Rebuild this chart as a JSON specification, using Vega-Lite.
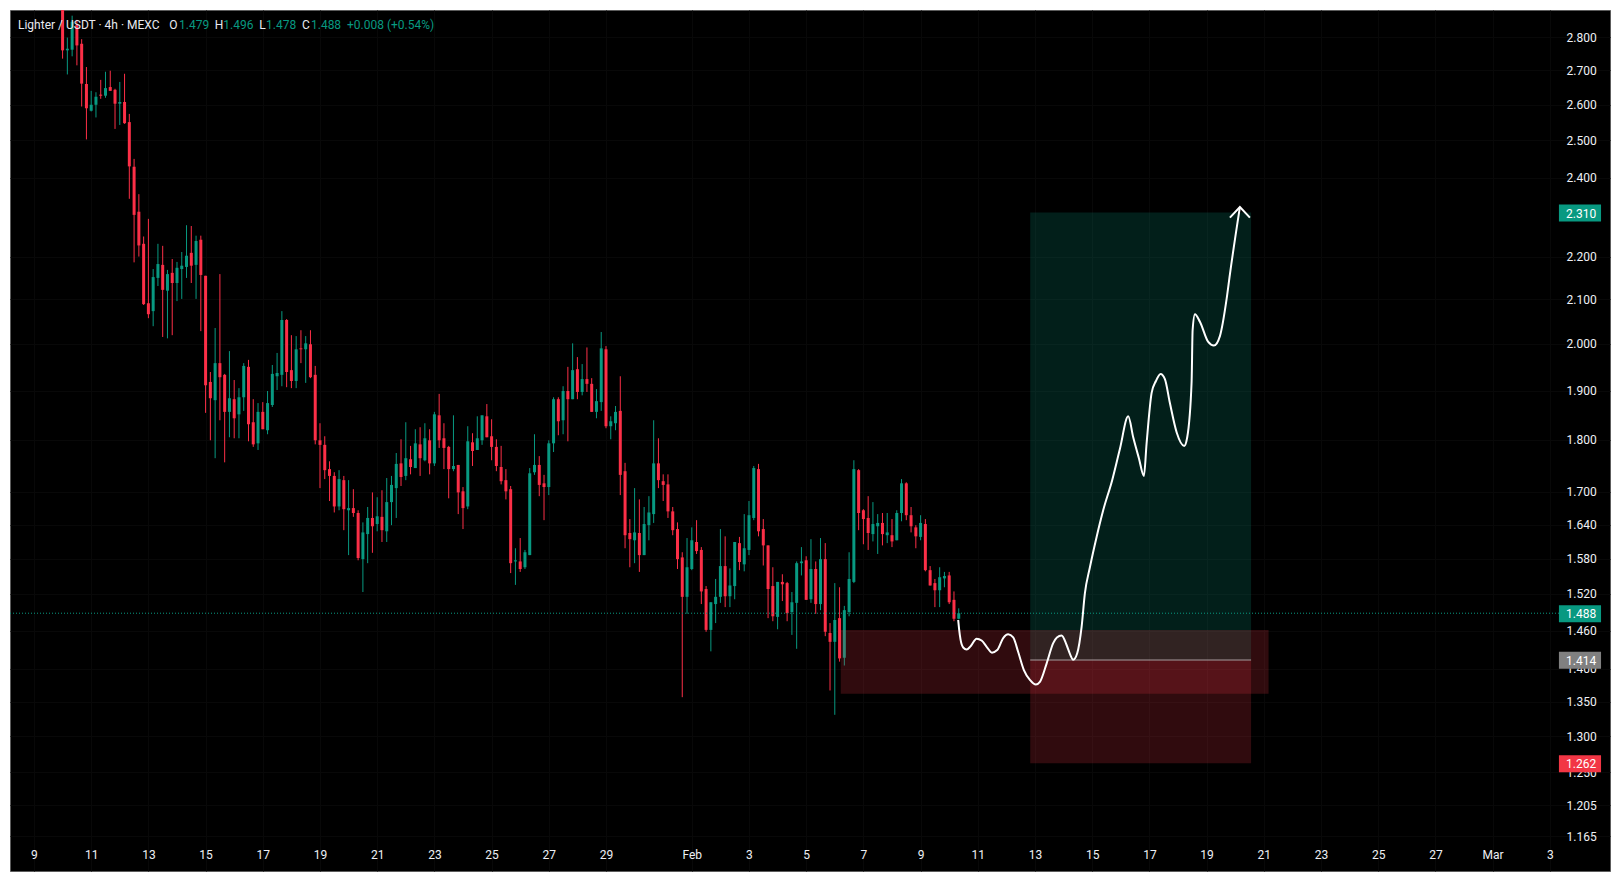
{"$schema":"https://vega.github.io/schema/vega-lite/v6.json","width":1600,"height":861,"autosize":{"type":"none"},"padding":{"left":10,"top":10,"right":10,"bottom":10},"background":"#ffffff","view":{"fill":"#000000","stroke":"#5c5c5c","strokeWidth":1},
"datasets":{"candles":[
{"t":"2026-01-10T00:00:00Z","o":2.95,"h":3.0,"l":2.735,"c":2.76},
{"t":"2026-01-10T04:00:00Z","o":2.76,"h":2.799,"l":2.688,"c":2.765},
{"t":"2026-01-10T08:00:00Z","o":2.762,"h":2.867,"l":2.742,"c":2.848},
{"t":"2026-01-10T12:00:00Z","o":2.838,"h":2.854,"l":2.715,"c":2.775},
{"t":"2026-01-10T16:00:00Z","o":2.78,"h":2.794,"l":2.595,"c":2.661},
{"t":"2026-01-10T20:00:00Z","o":2.66,"h":2.71,"l":2.503,"c":2.59},
{"t":"2026-01-11T00:00:00Z","o":2.583,"h":2.64,"l":2.581,"c":2.6},
{"t":"2026-01-11T04:00:00Z","o":2.6,"h":2.636,"l":2.564,"c":2.623},
{"t":"2026-01-11T08:00:00Z","o":2.629,"h":2.672,"l":2.617,"c":2.626},
{"t":"2026-01-11T12:00:00Z","o":2.626,"h":2.696,"l":2.62,"c":2.648},
{"t":"2026-01-11T16:00:00Z","o":2.651,"h":2.699,"l":2.64,"c":2.64},
{"t":"2026-01-11T20:00:00Z","o":2.643,"h":2.646,"l":2.532,"c":2.603},
{"t":"2026-01-12T00:00:00Z","o":2.603,"h":2.666,"l":2.543,"c":2.608},
{"t":"2026-01-12T04:00:00Z","o":2.608,"h":2.69,"l":2.546,"c":2.548},
{"t":"2026-01-12T08:00:00Z","o":2.551,"h":2.574,"l":2.345,"c":2.43},
{"t":"2026-01-12T12:00:00Z","o":2.429,"h":2.45,"l":2.187,"c":2.304},
{"t":"2026-01-12T16:00:00Z","o":2.312,"h":2.357,"l":2.201,"c":2.228},
{"t":"2026-01-12T20:00:00Z","o":2.232,"h":2.25,"l":2.087,"c":2.089},
{"t":"2026-01-13T00:00:00Z","o":2.091,"h":2.294,"l":2.057,"c":2.066},
{"t":"2026-01-13T04:00:00Z","o":2.073,"h":2.171,"l":2.039,"c":2.152},
{"t":"2026-01-13T08:00:00Z","o":2.15,"h":2.232,"l":2.131,"c":2.183},
{"t":"2026-01-13T12:00:00Z","o":2.181,"h":2.227,"l":2.015,"c":2.122},
{"t":"2026-01-13T16:00:00Z","o":2.12,"h":2.169,"l":2.012,"c":2.159},
{"t":"2026-01-13T20:00:00Z","o":2.162,"h":2.195,"l":2.019,"c":2.138},
{"t":"2026-01-14T00:00:00Z","o":2.138,"h":2.188,"l":2.096,"c":2.174},
{"t":"2026-01-14T04:00:00Z","o":2.171,"h":2.212,"l":2.101,"c":2.179},
{"t":"2026-01-14T08:00:00Z","o":2.176,"h":2.278,"l":2.15,"c":2.203},
{"t":"2026-01-14T12:00:00Z","o":2.21,"h":2.276,"l":2.138,"c":2.179},
{"t":"2026-01-14T16:00:00Z","o":2.181,"h":2.252,"l":2.101,"c":2.239},
{"t":"2026-01-14T20:00:00Z","o":2.242,"h":2.252,"l":2.028,"c":2.157},
{"t":"2026-01-15T00:00:00Z","o":2.155,"h":2.155,"l":1.854,"c":1.911},
{"t":"2026-01-15T04:00:00Z","o":1.918,"h":1.939,"l":1.799,"c":1.884},
{"t":"2026-01-15T08:00:00Z","o":1.88,"h":2.035,"l":1.764,"c":1.958},
{"t":"2026-01-15T12:00:00Z","o":1.958,"h":2.159,"l":1.839,"c":1.928},
{"t":"2026-01-15T16:00:00Z","o":1.933,"h":1.935,"l":1.756,"c":1.856},
{"t":"2026-01-15T20:00:00Z","o":1.856,"h":1.984,"l":1.805,"c":1.884},
{"t":"2026-01-16T00:00:00Z","o":1.882,"h":1.922,"l":1.803,"c":1.843},
{"t":"2026-01-16T04:00:00Z","o":1.851,"h":1.905,"l":1.803,"c":1.886},
{"t":"2026-01-16T08:00:00Z","o":1.886,"h":1.958,"l":1.858,"c":1.952},
{"t":"2026-01-16T12:00:00Z","o":1.95,"h":1.965,"l":1.797,"c":1.831},
{"t":"2026-01-16T16:00:00Z","o":1.835,"h":1.882,"l":1.786,"c":1.791},
{"t":"2026-01-16T20:00:00Z","o":1.793,"h":1.874,"l":1.78,"c":1.856},
{"t":"2026-01-17T00:00:00Z","o":1.856,"h":1.876,"l":1.821,"c":1.821},
{"t":"2026-01-17T04:00:00Z","o":1.819,"h":1.899,"l":1.811,"c":1.874},
{"t":"2026-01-17T08:00:00Z","o":1.87,"h":1.954,"l":1.866,"c":1.935},
{"t":"2026-01-17T12:00:00Z","o":1.93,"h":1.98,"l":1.901,"c":1.937},
{"t":"2026-01-17T16:00:00Z","o":1.933,"h":2.073,"l":1.909,"c":2.053},
{"t":"2026-01-17T20:00:00Z","o":2.053,"h":2.055,"l":1.907,"c":1.939},
{"t":"2026-01-18T00:00:00Z","o":1.943,"h":2.019,"l":1.905,"c":1.92},
{"t":"2026-01-18T04:00:00Z","o":1.92,"h":2.017,"l":1.905,"c":1.988},
{"t":"2026-01-18T08:00:00Z","o":1.99,"h":2.03,"l":1.958,"c":1.988},
{"t":"2026-01-18T12:00:00Z","o":1.988,"h":2.017,"l":1.916,"c":2.001},
{"t":"2026-01-18T16:00:00Z","o":1.999,"h":2.03,"l":1.926,"c":1.928},
{"t":"2026-01-18T20:00:00Z","o":1.933,"h":1.952,"l":1.791,"c":1.799},
{"t":"2026-01-19T00:00:00Z","o":1.799,"h":1.833,"l":1.707,"c":1.79},
{"t":"2026-01-19T04:00:00Z","o":1.79,"h":1.807,"l":1.724,"c":1.741},
{"t":"2026-01-19T08:00:00Z","o":1.743,"h":1.758,"l":1.683,"c":1.73},
{"t":"2026-01-19T12:00:00Z","o":1.73,"h":1.737,"l":1.662,"c":1.673},
{"t":"2026-01-19T16:00:00Z","o":1.673,"h":1.741,"l":1.666,"c":1.724},
{"t":"2026-01-19T20:00:00Z","o":1.722,"h":1.73,"l":1.63,"c":1.668},
{"t":"2026-01-20T00:00:00Z","o":1.666,"h":1.722,"l":1.586,"c":1.67},
{"t":"2026-01-20T04:00:00Z","o":1.67,"h":1.705,"l":1.654,"c":1.661},
{"t":"2026-01-20T08:00:00Z","o":1.661,"h":1.666,"l":1.577,"c":1.581},
{"t":"2026-01-20T12:00:00Z","o":1.579,"h":1.644,"l":1.523,"c":1.626},
{"t":"2026-01-20T16:00:00Z","o":1.623,"h":1.672,"l":1.572,"c":1.652},
{"t":"2026-01-20T20:00:00Z","o":1.652,"h":1.699,"l":1.59,"c":1.637},
{"t":"2026-01-21T00:00:00Z","o":1.641,"h":1.69,"l":1.628,"c":1.655},
{"t":"2026-01-21T04:00:00Z","o":1.654,"h":1.703,"l":1.609,"c":1.63},
{"t":"2026-01-21T08:00:00Z","o":1.628,"h":1.726,"l":1.609,"c":1.681},
{"t":"2026-01-21T12:00:00Z","o":1.681,"h":1.73,"l":1.639,"c":1.713},
{"t":"2026-01-21T16:00:00Z","o":1.707,"h":1.774,"l":1.652,"c":1.753},
{"t":"2026-01-21T20:00:00Z","o":1.754,"h":1.801,"l":1.711,"c":1.728},
{"t":"2026-01-22T00:00:00Z","o":1.73,"h":1.835,"l":1.722,"c":1.764},
{"t":"2026-01-22T04:00:00Z","o":1.762,"h":1.788,"l":1.733,"c":1.747},
{"t":"2026-01-22T08:00:00Z","o":1.745,"h":1.821,"l":1.745,"c":1.793},
{"t":"2026-01-22T12:00:00Z","o":1.791,"h":1.825,"l":1.73,"c":1.764},
{"t":"2026-01-22T16:00:00Z","o":1.76,"h":1.833,"l":1.758,"c":1.803},
{"t":"2026-01-22T20:00:00Z","o":1.799,"h":1.821,"l":1.733,"c":1.754},
{"t":"2026-01-23T00:00:00Z","o":1.754,"h":1.856,"l":1.749,"c":1.851},
{"t":"2026-01-23T04:00:00Z","o":1.849,"h":1.893,"l":1.784,"c":1.799},
{"t":"2026-01-23T08:00:00Z","o":1.803,"h":1.833,"l":1.743,"c":1.784},
{"t":"2026-01-23T12:00:00Z","o":1.786,"h":1.788,"l":1.688,"c":1.743},
{"t":"2026-01-23T16:00:00Z","o":1.743,"h":1.849,"l":1.739,"c":1.749},
{"t":"2026-01-23T20:00:00Z","o":1.751,"h":1.751,"l":1.659,"c":1.699},
{"t":"2026-01-24T00:00:00Z","o":1.701,"h":1.709,"l":1.632,"c":1.67},
{"t":"2026-01-24T04:00:00Z","o":1.673,"h":1.827,"l":1.668,"c":1.797},
{"t":"2026-01-24T08:00:00Z","o":1.795,"h":1.813,"l":1.749,"c":1.778},
{"t":"2026-01-24T12:00:00Z","o":1.78,"h":1.847,"l":1.78,"c":1.803},
{"t":"2026-01-24T16:00:00Z","o":1.799,"h":1.849,"l":1.79,"c":1.849},
{"t":"2026-01-24T20:00:00Z","o":1.847,"h":1.872,"l":1.805,"c":1.805},
{"t":"2026-01-25T00:00:00Z","o":1.807,"h":1.841,"l":1.76,"c":1.786},
{"t":"2026-01-25T04:00:00Z","o":1.786,"h":1.801,"l":1.739,"c":1.749},
{"t":"2026-01-25T08:00:00Z","o":1.747,"h":1.788,"l":1.714,"c":1.72},
{"t":"2026-01-25T12:00:00Z","o":1.722,"h":1.743,"l":1.686,"c":1.701},
{"t":"2026-01-25T16:00:00Z","o":1.705,"h":1.711,"l":1.555,"c":1.572},
{"t":"2026-01-25T20:00:00Z","o":1.575,"h":1.598,"l":1.535,"c":1.577},
{"t":"2026-01-26T00:00:00Z","o":1.575,"h":1.616,"l":1.557,"c":1.562},
{"t":"2026-01-26T04:00:00Z","o":1.565,"h":1.595,"l":1.562,"c":1.591},
{"t":"2026-01-26T08:00:00Z","o":1.586,"h":1.745,"l":1.586,"c":1.735},
{"t":"2026-01-26T12:00:00Z","o":1.737,"h":1.811,"l":1.732,"c":1.751},
{"t":"2026-01-26T16:00:00Z","o":1.751,"h":1.768,"l":1.692,"c":1.713},
{"t":"2026-01-26T20:00:00Z","o":1.716,"h":1.732,"l":1.648,"c":1.709},
{"t":"2026-01-27T00:00:00Z","o":1.709,"h":1.799,"l":1.694,"c":1.793},
{"t":"2026-01-27T04:00:00Z","o":1.793,"h":1.886,"l":1.776,"c":1.882},
{"t":"2026-01-27T08:00:00Z","o":1.882,"h":1.886,"l":1.809,"c":1.837},
{"t":"2026-01-27T12:00:00Z","o":1.839,"h":1.909,"l":1.811,"c":1.899},
{"t":"2026-01-27T16:00:00Z","o":1.899,"h":1.95,"l":1.797,"c":1.882},
{"t":"2026-01-27T20:00:00Z","o":1.882,"h":2.001,"l":1.882,"c":1.943},
{"t":"2026-01-28T00:00:00Z","o":1.945,"h":1.971,"l":1.882,"c":1.897},
{"t":"2026-01-28T04:00:00Z","o":1.897,"h":1.956,"l":1.89,"c":1.924},
{"t":"2026-01-28T08:00:00Z","o":1.924,"h":1.992,"l":1.897,"c":1.914},
{"t":"2026-01-28T12:00:00Z","o":1.914,"h":1.926,"l":1.856,"c":1.856},
{"t":"2026-01-28T16:00:00Z","o":1.856,"h":1.903,"l":1.843,"c":1.878},
{"t":"2026-01-28T20:00:00Z","o":1.876,"h":2.026,"l":1.858,"c":1.99},
{"t":"2026-01-29T00:00:00Z","o":1.988,"h":1.995,"l":1.823,"c":1.827},
{"t":"2026-01-29T04:00:00Z","o":1.827,"h":1.847,"l":1.801,"c":1.837},
{"t":"2026-01-29T08:00:00Z","o":1.833,"h":1.868,"l":1.819,"c":1.856},
{"t":"2026-01-29T12:00:00Z","o":1.858,"h":1.93,"l":1.694,"c":1.732},
{"t":"2026-01-29T16:00:00Z","o":1.739,"h":1.755,"l":1.598,"c":1.621},
{"t":"2026-01-29T20:00:00Z","o":1.625,"h":1.65,"l":1.565,"c":1.614},
{"t":"2026-01-30T00:00:00Z","o":1.612,"h":1.707,"l":1.572,"c":1.626},
{"t":"2026-01-30T04:00:00Z","o":1.625,"h":1.686,"l":1.557,"c":1.586},
{"t":"2026-01-30T08:00:00Z","o":1.586,"h":1.672,"l":1.586,"c":1.641},
{"t":"2026-01-30T12:00:00Z","o":1.639,"h":1.692,"l":1.612,"c":1.662},
{"t":"2026-01-30T16:00:00Z","o":1.659,"h":1.839,"l":1.643,"c":1.754},
{"t":"2026-01-30T20:00:00Z","o":1.754,"h":1.803,"l":1.707,"c":1.722},
{"t":"2026-01-31T00:00:00Z","o":1.72,"h":1.733,"l":1.683,"c":1.713},
{"t":"2026-01-31T04:00:00Z","o":1.714,"h":1.733,"l":1.652,"c":1.664},
{"t":"2026-01-31T08:00:00Z","o":1.664,"h":1.672,"l":1.621,"c":1.63},
{"t":"2026-01-31T12:00:00Z","o":1.632,"h":1.644,"l":1.562,"c":1.579},
{"t":"2026-01-31T16:00:00Z","o":1.582,"h":1.591,"l":1.357,"c":1.515},
{"t":"2026-01-31T20:00:00Z","o":1.515,"h":1.616,"l":1.487,"c":1.565},
{"t":"2026-02-01T00:00:00Z","o":1.562,"h":1.635,"l":1.56,"c":1.612},
{"t":"2026-02-01T04:00:00Z","o":1.609,"h":1.648,"l":1.588,"c":1.593},
{"t":"2026-02-01T08:00:00Z","o":1.595,"h":1.6,"l":1.503,"c":1.524},
{"t":"2026-02-01T12:00:00Z","o":1.528,"h":1.533,"l":1.458,"c":1.461},
{"t":"2026-02-01T16:00:00Z","o":1.461,"h":1.506,"l":1.427,"c":1.506},
{"t":"2026-02-01T20:00:00Z","o":1.503,"h":1.545,"l":1.472,"c":1.515},
{"t":"2026-02-02T00:00:00Z","o":1.515,"h":1.632,"l":1.505,"c":1.567},
{"t":"2026-02-02T04:00:00Z","o":1.567,"h":1.619,"l":1.498,"c":1.516},
{"t":"2026-02-02T08:00:00Z","o":1.516,"h":1.563,"l":1.498,"c":1.534},
{"t":"2026-02-02T12:00:00Z","o":1.533,"h":1.609,"l":1.511,"c":1.609},
{"t":"2026-02-02T16:00:00Z","o":1.607,"h":1.618,"l":1.56,"c":1.574},
{"t":"2026-02-02T20:00:00Z","o":1.57,"h":1.659,"l":1.558,"c":1.598},
{"t":"2026-02-03T00:00:00Z","o":1.595,"h":1.683,"l":1.586,"c":1.657},
{"t":"2026-02-03T04:00:00Z","o":1.652,"h":1.749,"l":1.648,"c":1.745},
{"t":"2026-02-03T08:00:00Z","o":1.743,"h":1.753,"l":1.619,"c":1.628},
{"t":"2026-02-03T12:00:00Z","o":1.632,"h":1.65,"l":1.568,"c":1.603},
{"t":"2026-02-03T16:00:00Z","o":1.603,"h":1.603,"l":1.48,"c":1.528},
{"t":"2026-02-03T20:00:00Z","o":1.533,"h":1.565,"l":1.475,"c":1.483},
{"t":"2026-02-04T00:00:00Z","o":1.482,"h":1.54,"l":1.462,"c":1.54},
{"t":"2026-02-04T04:00:00Z","o":1.54,"h":1.553,"l":1.508,"c":1.536},
{"t":"2026-02-04T08:00:00Z","o":1.538,"h":1.54,"l":1.475,"c":1.488},
{"t":"2026-02-04T12:00:00Z","o":1.49,"h":1.523,"l":1.453,"c":1.506},
{"t":"2026-02-04T16:00:00Z","o":1.505,"h":1.575,"l":1.431,"c":1.572},
{"t":"2026-02-04T20:00:00Z","o":1.572,"h":1.6,"l":1.551,"c":1.575},
{"t":"2026-02-05T00:00:00Z","o":1.577,"h":1.584,"l":1.51,"c":1.51},
{"t":"2026-02-05T04:00:00Z","o":1.511,"h":1.614,"l":1.505,"c":1.562},
{"t":"2026-02-05T08:00:00Z","o":1.562,"h":1.575,"l":1.487,"c":1.503},
{"t":"2026-02-05T12:00:00Z","o":1.503,"h":1.616,"l":1.493,"c":1.579},
{"t":"2026-02-05T16:00:00Z","o":1.579,"h":1.607,"l":1.451,"c":1.458},
{"t":"2026-02-05T20:00:00Z","o":1.456,"h":1.472,"l":1.367,"c":1.442},
{"t":"2026-02-06T00:00:00Z","o":1.442,"h":1.538,"l":1.331,"c":1.477},
{"t":"2026-02-06T04:00:00Z","o":1.48,"h":1.531,"l":1.411,"c":1.416},
{"t":"2026-02-06T08:00:00Z","o":1.417,"h":1.5,"l":1.405,"c":1.493},
{"t":"2026-02-06T12:00:00Z","o":1.49,"h":1.591,"l":1.483,"c":1.545},
{"t":"2026-02-06T16:00:00Z","o":1.54,"h":1.76,"l":1.538,"c":1.743},
{"t":"2026-02-06T20:00:00Z","o":1.741,"h":1.743,"l":1.63,"c":1.661},
{"t":"2026-02-07T00:00:00Z","o":1.666,"h":1.668,"l":1.605,"c":1.65},
{"t":"2026-02-07T04:00:00Z","o":1.652,"h":1.692,"l":1.595,"c":1.625},
{"t":"2026-02-07T08:00:00Z","o":1.623,"h":1.681,"l":1.61,"c":1.641},
{"t":"2026-02-07T12:00:00Z","o":1.637,"h":1.659,"l":1.588,"c":1.643},
{"t":"2026-02-07T16:00:00Z","o":1.643,"h":1.661,"l":1.603,"c":1.623},
{"t":"2026-02-07T20:00:00Z","o":1.621,"h":1.661,"l":1.607,"c":1.626},
{"t":"2026-02-08T00:00:00Z","o":1.621,"h":1.65,"l":1.6,"c":1.61},
{"t":"2026-02-08T04:00:00Z","o":1.612,"h":1.666,"l":1.612,"c":1.661},
{"t":"2026-02-08T08:00:00Z","o":1.661,"h":1.724,"l":1.646,"c":1.716},
{"t":"2026-02-08T12:00:00Z","o":1.716,"h":1.718,"l":1.648,"c":1.657},
{"t":"2026-02-08T16:00:00Z","o":1.657,"h":1.672,"l":1.626,"c":1.637},
{"t":"2026-02-08T20:00:00Z","o":1.635,"h":1.639,"l":1.598,"c":1.619},
{"t":"2026-02-09T00:00:00Z","o":1.618,"h":1.657,"l":1.612,"c":1.643},
{"t":"2026-02-09T04:00:00Z","o":1.641,"h":1.65,"l":1.558,"c":1.56},
{"t":"2026-02-09T08:00:00Z","o":1.56,"h":1.567,"l":1.534,"c":1.534},
{"t":"2026-02-09T12:00:00Z","o":1.538,"h":1.545,"l":1.498,"c":1.526},
{"t":"2026-02-09T16:00:00Z","o":1.526,"h":1.565,"l":1.498,"c":1.548},
{"t":"2026-02-09T20:00:00Z","o":1.546,"h":1.557,"l":1.531,"c":1.55},
{"t":"2026-02-10T00:00:00Z","o":1.551,"h":1.557,"l":1.503,"c":1.506},
{"t":"2026-02-10T04:00:00Z","o":1.51,"h":1.524,"l":1.475,"c":1.479},
{"t":"2026-02-10T08:00:00Z","o":1.479,"h":1.496,"l":1.478,"c":1.488}
],
"forecast":[
{"t":"2026-02-10T07:33:00Z","p":1.477},{"t":"2026-02-10T08:23:00Z","p":1.461},{"t":"2026-02-10T09:34:00Z","p":1.445},{"t":"2026-02-10T11:45:00Z","p":1.433},{"t":"2026-02-10T14:36:00Z","p":1.43},{"t":"2026-02-10T17:58:00Z","p":1.435},{"t":"2026-02-10T23:00:00Z","p":1.447},{"t":"2026-02-11T03:12:00Z","p":1.444},{"t":"2026-02-11T07:54:00Z","p":1.433},{"t":"2026-02-11T11:50:00Z","p":1.425},{"t":"2026-02-11T16:17:00Z","p":1.429},{"t":"2026-02-11T21:19:00Z","p":1.448},{"t":"2026-02-12T01:31:00Z","p":1.454},{"t":"2026-02-12T05:43:00Z","p":1.449},{"t":"2026-02-12T09:54:00Z","p":1.426},{"t":"2026-02-12T14:41:00Z","p":1.398},{"t":"2026-02-12T19:43:00Z","p":1.383},{"t":"2026-02-13T00:46:00Z","p":1.376},{"t":"2026-02-13T04:07:00Z","p":1.38},{"t":"2026-02-13T09:44:00Z","p":1.408},{"t":"2026-02-13T15:17:00Z","p":1.44},{"t":"2026-02-13T18:23:00Z","p":1.449},{"t":"2026-02-13T22:20:00Z","p":1.452},{"t":"2026-02-14T02:31:00Z","p":1.437},{"t":"2026-02-14T05:18:00Z","p":1.423},{"t":"2026-02-14T08:04:00Z","p":1.414},{"t":"2026-02-14T11:25:00Z","p":1.424},{"t":"2026-02-14T15:07:00Z","p":1.466},{"t":"2026-02-14T17:53:00Z","p":1.521},{"t":"2026-02-14T22:05:00Z","p":1.565},{"t":"2026-02-15T03:42:00Z","p":1.618},{"t":"2026-02-15T09:14:00Z","p":1.666},{"t":"2026-02-15T16:46:00Z","p":1.722},{"t":"2026-02-15T23:14:00Z","p":1.782},{"t":"2026-02-16T06:13:00Z","p":1.847},{"t":"2026-02-16T10:25:00Z","p":1.805},{"t":"2026-02-16T15:11:00Z","p":1.764},{"t":"2026-02-16T19:23:00Z","p":1.73},{"t":"2026-02-16T21:39:00Z","p":1.793},{"t":"2026-02-17T01:52:00Z","p":1.895},{"t":"2026-02-17T05:28:00Z","p":1.92},{"t":"2026-02-17T09:25:00Z","p":1.935},{"t":"2026-02-17T13:01:00Z","p":1.924},{"t":"2026-02-17T17:12:00Z","p":1.874},{"t":"2026-02-17T22:50:00Z","p":1.815},{"t":"2026-02-18T05:13:00Z","p":1.788},{"t":"2026-02-18T07:44:00Z","p":1.805},{"t":"2026-02-18T11:25:00Z","p":1.918},{"t":"2026-02-18T12:16:00Z","p":2.03},{"t":"2026-02-18T14:12:00Z","p":2.066},{"t":"2026-02-18T18:24:00Z","p":2.049},{"t":"2026-02-19T01:22:00Z","p":2.004},{"t":"2026-02-19T06:08:00Z","p":1.996},{"t":"2026-02-19T11:10:00Z","p":2.017},{"t":"2026-02-19T16:48:00Z","p":2.101},{"t":"2026-02-19T19:32:00Z","p":2.158},{"t":"2026-02-20T03:57:00Z","p":2.324}
],
"arrow":[{"t":"2026-02-19T19:34:00Z","p":2.297},{"t":"2026-02-20T03:57:00Z","p":2.324},{"t":"2026-02-20T12:21:00Z","p":2.297}],
"zones":[
{"t0":"2026-02-12T20:00:00Z","t1":"2026-02-20T13:20:00Z","lo":1.414,"hi":2.31,"kind":"target"},
{"t0":"2026-02-12T20:00:00Z","t1":"2026-02-20T13:20:00Z","lo":1.262,"hi":1.414,"kind":"stop"},
{"t0":"2026-02-06T05:00:00Z","t1":"2026-02-21T04:00:00Z","lo":1.362,"hi":1.461,"kind":"stop"}
],
"levels":[{"t0":"2026-02-12T20:00:00Z","t1":"2026-02-20T13:20:00Z","p":1.4135}],
"lastprice":[{"t0":"2026-01-08T03:52:00Z","t1":"2026-03-03T07:40:00Z","p":1.488}],
"tags":[
{"t0":"2026-03-03T07:40:00Z","t1":"2026-03-04T19:00:00Z","tt":"2026-03-03T13:40:00Z","lo":2.2871,"hi":2.3303,"p":2.31,"label":"2.310","kind":"target"},
{"t0":"2026-03-03T07:40:00Z","t1":"2026-03-04T19:00:00Z","tt":"2026-03-03T13:40:00Z","lo":1.4733,"hi":1.5011,"p":1.488,"label":"1.488","kind":"last"},
{"t0":"2026-03-03T07:40:00Z","t1":"2026-03-04T19:00:00Z","tt":"2026-03-03T13:40:00Z","lo":1.4,"hi":1.4265,"p":1.414,"label":"1.414","kind":"entry"},
{"t0":"2026-03-03T07:40:00Z","t1":"2026-03-04T19:00:00Z","tt":"2026-03-03T13:40:00Z","lo":1.2495,"hi":1.2731,"p":1.262,"label":"1.262","kind":"stop"}
],
"header":[
{"t":"2026-01-08T10:34:00Z","p":2.839,"label":"Lighter / USDT · 4h · MEXC","kind":"name"},
{"t":"2026-01-13T17:32:00Z","p":2.839,"label":"O","kind":"name"},
{"t":"2026-01-14T01:41:00Z","p":2.839,"label":"1.479","kind":"value"},
{"t":"2026-01-15T07:38:00Z","p":2.839,"label":"H","kind":"name"},
{"t":"2026-01-15T14:51:00Z","p":2.839,"label":"1.496","kind":"value"},
{"t":"2026-01-16T21:03:00Z","p":2.839,"label":"L","kind":"name"},
{"t":"2026-01-17T02:41:00Z","p":2.839,"label":"1.478","kind":"value"},
{"t":"2026-01-18T08:54:00Z","p":2.839,"label":"C","kind":"name"},
{"t":"2026-01-18T16:26:00Z","p":2.839,"label":"1.488","kind":"value"},
{"t":"2026-01-19T22:39:00Z","p":2.839,"label":"+0.008 (+0.54%)","kind":"value"}
]},
"layer":[
{"data":{"name":"candles"},"mark":{"type":"rule","strokeWidth":1,"clip":true},
"encoding":{
"x":{"field":"t","type":"temporal","title":null,"scale":{"type":"utc","domain":["2026-01-08T03:52:00Z","2026-03-05T02:31:00Z"]},
"axis":{"orient":"bottom","offset":-30,"domain":false,"ticks":false,"grid":true,"gridColor":"#080808","gridWidth":1,"labelPadding":8,"labelFont":"Roboto","labelFontSize":12,"labelColor":"#eef0f5","labelFlush":false,"labelOverlap":false,"values":["2026-01-09T00:00:00Z","2026-01-11T00:00:00Z","2026-01-13T00:00:00Z","2026-01-15T00:00:00Z","2026-01-17T00:00:00Z","2026-01-19T00:00:00Z","2026-01-21T00:00:00Z","2026-01-23T00:00:00Z","2026-01-25T00:00:00Z","2026-01-27T00:00:00Z","2026-01-29T00:00:00Z","2026-02-01T00:00:00Z","2026-02-03T00:00:00Z","2026-02-05T00:00:00Z","2026-02-07T00:00:00Z","2026-02-09T00:00:00Z","2026-02-11T00:00:00Z","2026-02-13T00:00:00Z","2026-02-15T00:00:00Z","2026-02-17T00:00:00Z","2026-02-19T00:00:00Z","2026-02-21T00:00:00Z","2026-02-23T00:00:00Z","2026-02-25T00:00:00Z","2026-02-27T00:00:00Z","2026-03-01T00:00:00Z","2026-03-03T00:00:00Z"],
"labelExpr":"utcdate(datum.value)==1 ? (utcmonth(datum.value)==1 ? 'Feb' : 'Mar') : '' + utcdate(datum.value)"}},
"y":{"field":"l","type":"quantitative","title":null,"scale":{"type":"log","domain":[1.1213,2.885],"nice":false,"zero":false},
"axis":{"orient":"right","offset":-50,"domain":false,"ticks":false,"grid":true,"gridColor":"#080808","gridWidth":1,"labelPadding":6,"labelFont":"Roboto","labelFontSize":12,"labelColor":"#eef0f5","labelOverlap":false,"format":".3f","values":[2.8,2.7,2.6,2.5,2.4,2.2,2.1,2.0,1.9,1.8,1.7,1.64,1.58,1.52,1.46,1.4,1.35,1.3,1.25,1.205,1.165]}},
"y2":{"field":"h"},
"color":{"condition":{"test":"datum.c>=datum.o","value":"#089981"},"value":"#fc2f47"}}},
{"data":{"name":"candles"},"mark":{"type":"rule","strokeWidth":3,"clip":true},
"encoding":{
"x":{"field":"t","type":"temporal","title":null},
"y":{"field":"o","type":"quantitative","title":null},
"y2":{"field":"c"},
"color":{"condition":{"test":"datum.c>=datum.o","value":"#089981"},"value":"#fc2f47"}}},
{"data":{"name":"zones"},"mark":{"type":"rect","opacity":0.2},
"encoding":{
"x":{"field":"t0","type":"temporal","title":null},
"x2":{"field":"t1"},
"y":{"field":"lo","type":"quantitative","title":null},
"y2":{"field":"hi"},
"color":{"field":"kind","type":"nominal","legend":null,"scale":{"domain":["name","value","target","last","entry","stop"],"range":["#e8eaf0","#089981","#089981","#089981","#808080","#f23645"]}}}},
{"data":{"name":"levels"},"mark":{"type":"rule","strokeWidth":1,"color":"#a0a0a0"},
"encoding":{
"x":{"field":"t0","type":"temporal","title":null},
"x2":{"field":"t1"},
"y":{"field":"p","type":"quantitative","title":null}}},
{"data":{"name":"lastprice"},"mark":{"type":"rule","strokeWidth":1,"color":"#089981","strokeDash":[1,2]},
"encoding":{
"x":{"field":"t0","type":"temporal","title":null},
"x2":{"field":"t1"},
"y":{"field":"p","type":"quantitative","title":null}}},
{"data":{"name":"forecast"},"mark":{"type":"line","color":"#ffffff","strokeWidth":2,"interpolate":"monotone"},
"encoding":{
"x":{"field":"t","type":"temporal","title":null},
"y":{"field":"p","type":"quantitative","title":null}}},
{"data":{"name":"arrow"},"mark":{"type":"line","color":"#ffffff","strokeWidth":2,"interpolate":"linear"},
"encoding":{
"x":{"field":"t","type":"temporal","title":null},
"y":{"field":"p","type":"quantitative","title":null}}},
{"data":{"name":"tags"},"mark":{"type":"rect"},
"encoding":{
"x":{"field":"t0","type":"temporal","title":null},
"x2":{"field":"t1"},
"y":{"field":"lo","type":"quantitative","title":null},
"y2":{"field":"hi"},
"color":{"field":"kind","type":"nominal","legend":null,"scale":{"domain":["name","value","target","last","entry","stop"],"range":["#e8eaf0","#089981","#089981","#089981","#808080","#f23645"]}}}},
{"data":{"name":"tags"},"mark":{"type":"text","align":"left","baseline":"middle","font":"Roboto","fontSize":12,"color":"#ffffff","dy":1},
"encoding":{
"x":{"field":"tt","type":"temporal","title":null},
"y":{"field":"p","type":"quantitative","title":null},
"text":{"field":"label"}}},
{"data":{"name":"header"},"mark":{"type":"text","align":"left","baseline":"middle","font":"Roboto","fontSize":12},
"encoding":{
"x":{"field":"t","type":"temporal","title":null},
"y":{"field":"p","type":"quantitative","title":null},
"text":{"field":"label"},
"color":{"field":"kind","type":"nominal","legend":null,"scale":{"domain":["name","value","target","last","entry","stop"],"range":["#e8eaf0","#089981","#089981","#089981","#808080","#f23645"]}}}}
]}
